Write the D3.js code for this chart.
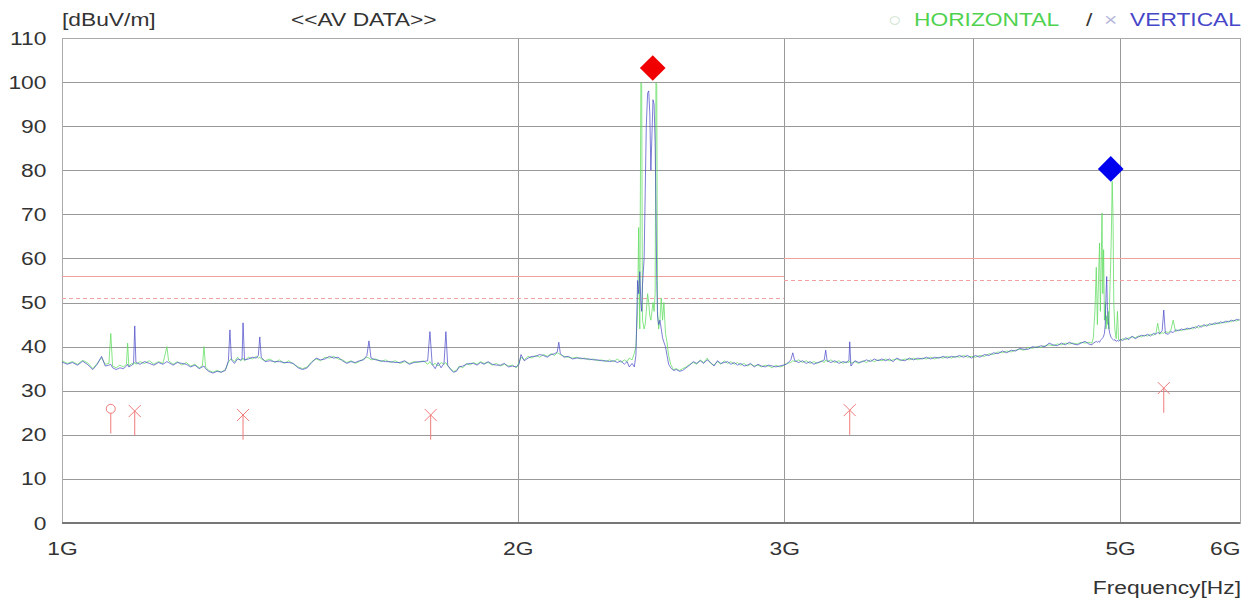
<!DOCTYPE html>
<html>
<head>
<meta charset="utf-8">
<script src="https://cdnjs.cloudflare.com/ajax/libs/d3/7.8.5/d3.min.js"></script>
<style>
body { margin: 0; background: #fff; }
svg text { font-family: "Liberation Sans", Arial, sans-serif; }
</style>
</head>
<body>
<svg id="chart" width="1253" height="602"></svg>
<script>
// sweep points, MHz
var freqMHz = [
    1000,1008,1016,1024,1032,1040,1048,1055,1062,1068,
    1074,1077,1080,1086,1092,1098,1103,1105,1107,1112,
    1115,1117,1119,1126,1134,1142,1150,1158,1166,1173,
    1176,1184,1192,1200,1208,1216,1224,1232,1238,1241,
    1244,1250,1258,1266,1274,1282,1288,1291,1294,1300,
    1306,1312,1315,1317,1320,1328,1336,1344,1348,1351,
    1354,1362,1372,1382,1392,1402,1412,1422,1432,1442,
    1452,1462,1472,1482,1492,1502,1512,1522,1532,1542,
    1552,1562,1572,1582,1590,1595,1600,1612,1624,1636,
    1648,1660,1672,1684,1696,1708,1720,1732,1744,1750,
    1756,1764,1772,1780,1788,1793,1798,1806,1814,1822,
    1830,1840,1850,1860,1870,1880,1890,1900,1912,1924,
    1936,1948,1960,1972,1984,1996,2004,2010,2020,2032,
    2044,2056,2068,2080,2092,2104,2116,2124,2129,2134,
    2146,2160,2174,2188,2202,2216,2230,2244,2258,2272,
    2286,2300,2314,2328,2340,2352,2362,2370,2380,2388,
    2394,2400,2404,2408,2412,2415,2418,2424,2428,2432,
    2437,2441,2445,2449,2453,2457,2461,2465,2468,2471,
    2474,2478,2483,2488,2493,2498,2504,2510,2516,2524,
    2534,2546,2558,2570,2584,2598,2612,2626,2640,2654,
    2668,2682,2696,2710,2724,2738,2752,2766,2780,2794,
    2808,2822,2836,2850,2866,2882,2898,2914,2930,2946,
    2962,2978,2994,3010,3030,3039,3048,3066,3084,3102,
    3120,3138,3156,3174,3188,3195,3202,3220,3240,3260,
    3280,3300,3310,3314,3320,3340,3360,3380,3400,3420,
    3440,3460,3480,3500,3520,3540,3560,3580,3604,3628,
    3652,3676,3700,3724,3748,3772,3796,3820,3844,3868,
    3892,3916,3940,3964,3988,4012,4040,4068,4096,4124,
    4152,4180,4208,4236,4264,4292,4320,4348,4376,4404,
    4432,4460,4488,4516,4544,4572,4600,4628,4656,4684,
    4712,4740,4768,4790,4800,4812,4822,4830,4838,4846,
    4852,4858,4864,4870,4876,4882,4888,4894,4899,4904,
    4910,4916,4922,4928,4934,4940,4946,4952,4960,4970,
    4980,4988,5000,5020,5044,5068,5092,5116,5140,5164,
    5188,5212,5236,5260,5280,5294,5310,5330,5343,5356,
    5380,5400,5420,5440,5464,5488,5512,5536,5560,5584,
    5608,5632,5656,5680,5704,5728,5752,5776,5800,5824,
    5848,5872,5896,5920,5944,5968,5996
];

// dBuV/m, horizontal antenna
var horizontal = [
    36.8,36.2,36.6,36.0,36.9,36.3,35.0,36.2,37.5,36.0,
    36.2,43.0,35.6,35.2,35.8,35.4,36.0,40.8,35.6,36.2,
    36.0,36.4,36.0,36.6,36.2,36.8,36.0,36.6,36.2,40.0,
    36.8,36.0,36.6,35.8,36.4,35.6,36.0,35.2,35.6,40.0,
    35.4,34.6,34.2,34.6,34.2,34.8,36.4,37.0,37.2,36.6,
    37.6,36.8,37.0,37.4,36.8,37.6,37.2,37.8,37.4,37.6,
    37.2,36.8,37.2,36.4,37.0,36.2,36.8,36.0,35.4,35.0,
    35.4,36.6,37.2,36.8,37.6,37.4,37.8,37.2,37.0,36.4,
    36.8,36.2,36.6,37.2,37.6,37.4,37.0,37.2,36.6,37.0,
    36.4,36.8,36.2,36.6,36.2,36.6,36.4,36.8,36.0,36.6,
    35.8,36.2,35.6,36.4,36.0,36.4,35.6,35.0,34.4,34.6,
    35.6,35.2,36.2,35.8,36.4,36.0,36.6,36.2,36.4,35.8,
    36.2,35.6,36.0,35.6,35.8,35.2,36.4,37.6,37.0,37.8,
    37.4,38.0,37.6,38.2,37.8,38.4,38.0,38.6,38.4,38.2,
    37.8,37.6,37.4,37.6,37.2,37.4,37.0,37.2,36.8,37.0,
    36.6,37.0,36.6,37.2,36.4,37.0,36.6,37.4,37.0,38.5,
    40.0,48.0,67.0,44.0,99.8,99.5,46.0,44.0,45.0,48.0,
    52.0,50.0,47.0,46.0,48.0,50.0,48.0,52.0,99.8,99.5,
    48.0,44.0,46.0,51.0,46.0,50.0,43.0,41.0,38.0,36.0,
    34.8,35.0,34.6,35.0,35.4,36.0,36.4,36.0,37.0,36.4,
    37.4,36.2,35.8,36.6,36.0,36.8,36.2,36.6,36.0,36.4,
    35.8,36.2,35.6,36.0,35.6,35.8,35.4,35.8,35.6,35.2,
    35.8,35.4,35.6,36.2,36.4,36.8,36.6,37.0,36.4,36.8,
    36.2,36.6,36.2,36.8,36.4,37.0,36.6,37.0,36.4,36.8,
    36.2,36.6,36.4,36.8,36.2,36.6,36.2,36.8,36.4,37.0,
    36.6,37.0,36.8,37.2,36.8,37.0,37.2,36.8,37.2,37.0,
    37.4,37.0,37.4,37.2,37.6,37.2,37.6,37.4,37.8,37.4,
    37.8,37.6,38.0,37.6,37.8,37.6,38.0,37.8,38.4,38.2,
    38.8,38.6,39.0,38.8,39.2,39.4,39.2,39.8,39.6,40.0,
    39.8,40.2,40.4,40.2,40.6,40.4,40.8,40.6,40.8,40.6,
    41.0,40.8,41.0,40.8,42.0,48.0,58.0,45.0,55.0,63.5,
    48.0,58.0,70.3,52.0,62.0,46.0,50.0,44.0,47.0,45.0,
    48.0,44.0,52.0,58.0,66.0,77.5,70.0,50.0,44.0,41.8,
    48.0,41.6,41.4,41.8,41.6,42.0,42.2,42.0,42.4,42.2,
    42.6,42.4,42.8,42.6,43.0,45.3,42.8,43.2,43.0,43.4,
    43.2,43.6,46.0,43.4,43.8,43.6,44.0,43.8,44.2,44.0,
    44.6,44.2,44.8,44.6,45.0,44.8,45.2,45.0,45.4,45.2,
    45.6,45.4,45.8,45.6,46.0,45.8,46.2
];

// dBuV/m, vertical antenna
var vertical = [
    36.5,36.0,36.4,35.8,36.7,35.9,34.8,36.0,37.8,35.6,
    35.8,36.0,35.2,34.8,35.2,35.0,35.6,36.0,35.4,35.8,
    36.2,44.7,36.4,36.0,36.6,36.2,35.8,36.4,36.0,36.6,
    36.4,35.8,36.4,36.2,36.0,35.4,35.8,35.0,35.4,35.6,
    35.0,34.4,34.0,34.4,34.2,34.6,36.8,43.8,37.0,36.2,
    37.2,37.0,37.2,45.4,37.0,37.2,37.6,37.4,38.0,42.2,
    37.6,36.6,36.8,36.6,36.6,36.4,36.4,36.2,35.2,34.8,
    35.2,36.4,37.4,37.0,37.2,37.8,37.4,37.6,36.8,36.2,
    36.6,36.4,36.8,37.0,38.0,41.3,37.4,37.0,36.8,36.6,
    36.6,36.4,36.4,36.8,36.0,36.4,36.6,36.6,36.8,43.4,
    36.0,35.0,36.4,35.2,36.2,43.4,35.8,34.8,34.2,34.4,
    35.4,35.6,36.0,36.2,36.2,35.8,36.4,36.0,36.6,36.0,
    35.8,35.8,36.2,35.4,35.6,35.4,36.0,38.2,36.8,37.4,
    37.8,37.8,38.2,38.0,37.6,38.2,38.4,38.8,41.0,38.4,
    37.6,37.8,37.2,37.4,37.4,37.2,37.2,37.0,37.0,36.8,
    36.8,36.6,36.8,36.4,36.8,36.0,36.6,35.4,36.2,35.4,
    38.0,55.0,52.0,57.0,50.0,48.0,54.0,60.0,75.0,90.0,
    97.5,98.0,93.0,80.0,88.0,96.0,95.0,86.0,72.0,55.0,
    47.0,45.0,46.0,44.0,42.0,41.0,40.0,38.0,36.0,35.2,
    34.6,34.8,34.4,34.6,35.2,35.8,36.6,36.2,36.8,36.2,
    37.0,36.4,35.6,36.8,36.2,36.4,36.6,36.0,36.4,35.8,
    36.2,35.6,35.8,36.2,35.4,36.0,35.6,35.4,35.8,35.6,
    35.4,35.6,35.8,36.0,37.0,38.6,36.8,36.4,36.8,36.2,
    36.6,36.0,36.4,36.6,37.0,39.2,36.8,36.4,36.8,36.2,
    36.6,36.4,37.0,41.1,35.6,36.8,36.4,36.6,37.0,36.6,
    37.2,36.8,37.2,36.8,37.2,36.6,37.4,37.0,36.8,37.4,
    37.0,37.4,37.2,37.6,37.2,37.6,37.4,37.8,37.4,37.8,
    37.6,38.0,37.6,38.0,37.4,38.0,37.6,38.2,38.0,38.6,
    38.4,39.0,38.6,39.2,39.0,39.6,39.4,39.4,40.0,39.8,
    40.2,40.0,40.8,40.4,40.2,40.8,40.4,41.0,40.6,40.4,
    40.8,41.2,40.6,40.4,40.8,41.0,41.2,41.0,41.2,41.0,
    41.4,41.6,41.8,42.0,42.4,43.0,45.0,52.0,55.9,49.0,
    46.0,44.0,43.0,42.4,42.0,41.8,41.6,41.4,41.6,41.2,
    41.4,41.2,41.6,41.4,42.0,41.6,42.4,41.8,42.2,42.6,
    42.4,42.8,42.4,43.0,42.8,43.2,43.0,43.6,48.3,43.0,
    42.8,43.4,43.2,43.8,43.6,44.0,43.8,44.2,44.0,44.4,
    44.2,44.8,44.4,45.0,44.6,45.2,45.0,45.4,45.2,45.6,
    45.4,45.8,45.6,46.0,45.8,46.2,46.0
];

// limit (solid) and margin (dashed) lines, per band
var bandStart = [1000, 3000];
var bandEnd = [3000, 6000];
var limitLevel = [56, 60];
var marginLevel = [51, 55];

// final measurement markers
var markerFreq = [1077, 1117, 1317, 1752, 3314, 5343];
var markerLevel = [25.9, 25.4, 24.5, 24.5, 25.6, 30.6];
var markerPol = ["H", "V", "V", "V", "V", "V"];

// peak diamonds
var peakFreq = [2456, 4929];
var peakLevel = [103.2, 80.3];

var yTicks = [0, 10, 20, 30, 40, 50, 60, 70, 80, 90, 100, 110];
var xTicks = [1000, 2000, 3000, 5000, 6000];
var xTickLabels = ["1G", "2G", "3G", "5G", "6G"];
var gridFreq = [2000, 3000, 4000, 5000];

var plotL = 62, plotR = 1240, plotT = 38, plotB = 523;
var stretch = "scale(1.2,1)";
var green = "#5fdc5f", blue = "#4646c8", pink = "#f07a7a";

var svg = d3.select("#chart");
var x = d3.scaleLog().domain([1000, 6000]).range([plotL, plotR]);
var y = d3.scaleLinear().domain([0, 110]).range([plotB, plotT]);

// grid
svg.append("g")
    .attr("class", "grid")
    .attr("transform", "translate(" + plotL + ",0)")
    .call(d3.axisLeft(y).tickValues(yTicks).tickSize(-(plotR - plotL)).tickFormat(""))
    .call(function (g) { g.select(".domain").remove(); });
svg.append("g")
    .attr("class", "grid")
    .attr("transform", "translate(0," + plotB + ")")
    .call(d3.axisBottom(x).tickValues(gridFreq).tickSize(-(plotB - plotT)).tickFormat(""))
    .call(function (g) { g.select(".domain").remove(); });
svg.selectAll(".grid line").attr("stroke", "#999").attr("shape-rendering", "crispEdges");

svg.append("rect")
    .attr("x", plotL).attr("y", plotT)
    .attr("width", plotR - plotL).attr("height", plotB - plotT)
    .attr("fill", "none").attr("stroke", "#aaa")
    .attr("shape-rendering", "crispEdges");
svg.append("line")
    .attr("x1", plotL).attr("x2", plotR).attr("y1", plotB).attr("y2", plotB)
    .attr("stroke", "#777").attr("stroke-width", 2);

// tick labels
var yAxis = svg.append("g")
    .attr("transform", "translate(" + plotL + ",0)")
    .call(d3.axisLeft(y).tickValues(yTicks).tickSize(0).tickPadding(13))
    .attr("font-size", 19).attr("font-family", null).attr("color", "#333");
yAxis.select(".domain").remove();
yAxis.selectAll("text").attr("transform", stretch);

var xAxis = svg.append("g")
    .attr("transform", "translate(0," + plotB + ")")
    .call(d3.axisBottom(x).tickValues(xTicks).tickSize(0).tickPadding(19)
        .tickFormat(function (d, i) { return xTickLabels[i]; }))
    .attr("font-size", 19).attr("font-family", null).attr("color", "#333");
xAxis.select(".domain").remove();
xAxis.selectAll("text")
    .attr("transform", stretch)
    .attr("text-anchor", function (d, i) { return i === xTicks.length - 1 ? "end" : "middle"; });

// limit lines
bandStart.forEach(function (f, i) {
    svg.append("line")
        .attr("x1", x(f)).attr("x2", x(bandEnd[i]))
        .attr("y1", y(limitLevel[i])).attr("y2", y(limitLevel[i]))
        .attr("stroke", "#f2a0a0").attr("shape-rendering", "crispEdges");
    svg.append("line")
        .attr("x1", x(f)).attr("x2", x(bandEnd[i]))
        .attr("y1", y(marginLevel[i])).attr("y2", y(marginLevel[i]))
        .attr("stroke", "#f2a0a0").attr("stroke-dasharray", "4,3")
        .attr("shape-rendering", "crispEdges");
});

// traces
var trace = function (levels) {
    return d3.line()
        .x(function (d, i) { return x(freqMHz[i]); })
        .y(function (d) { return y(d); })(levels);
};
svg.append("path")
    .attr("d", trace(horizontal))
    .attr("fill", "none").attr("stroke", green).attr("stroke-width", 1)
    .attr("stroke-opacity", 0.75);
svg.append("path")
    .attr("d", trace(vertical))
    .attr("fill", "none").attr("stroke", blue).attr("stroke-width", 1)
    .attr("stroke-opacity", 0.7);

// markers
markerFreq.forEach(function (f, i) {
    var mx = x(f), my = y(markerLevel[i]);
    var g = svg.append("g").attr("stroke", pink).attr("fill", "none");
    if (markerPol[i] === "H") {
        g.append("circle").attr("cx", mx).attr("cy", my).attr("r", 4.5);
        g.append("line").attr("x1", mx).attr("x2", mx)
            .attr("y1", my + 4.5).attr("y2", y(markerLevel[i] - 5.6));
    } else {
        g.append("path").attr("d",
            "M" + (mx - 6) + "," + (my - 6) + "L" + (mx + 6) + "," + (my + 6) +
            "M" + (mx + 6) + "," + (my - 6) + "L" + (mx - 6) + "," + (my + 6));
        g.append("line").attr("x1", mx).attr("x2", mx)
            .attr("y1", my).attr("y2", y(markerLevel[i] - 5.6));
    }
});

// peak diamonds
var peakColors = ["#f00000", "#0000f0"];
peakFreq.forEach(function (f, i) {
    svg.append("path")
        .attr("d", d3.symbol(d3.symbolSquare, 330)())
        .attr("transform", "translate(" + x(f) + "," + y(peakLevel[i]) + ") rotate(45)")
        .attr("fill", peakColors[i]);
});

// titles and legend
var label = function (tx, ty, txt, color, anchor) {
    svg.append("text")
        .attr("transform", "translate(" + tx + "," + ty + ") " + stretch)
        .attr("font-size", 19)
        .attr("fill", color)
        .attr("text-anchor", anchor || "start")
        .text(txt);
};
label(62, 26, "[dBuV/m]", "#333");
label(291, 26, "<<AV DATA>>", "#333");
label(888, 26, "\u25CB", "#cfe3cf");
label(914, 26, "HORIZONTAL", "#4fd24f");
label(1086, 26, "/", "#333");
label(1104, 26, "\u00D7", "#b8b8dc");
label(1241, 26, "VERTICAL", "#4646c8", "end");
label(1241, 594, "Frequency[Hz]", "#333", "end");
</script>
</body>
</html>
